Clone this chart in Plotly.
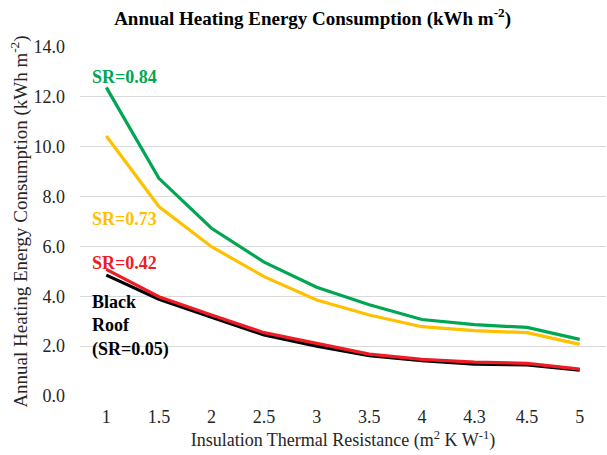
import plotly.graph_objects as go

# Insulation thermal resistance levels (m2 K W-1)
r_values = ["1", "1.5", "2", "2.5", "3", "3.5", "4", "4.3", "4.5", "5"]

# Annual heating energy consumption (kWh m-2) per roof solar reflectance
black_roof = [4.85, 3.88, 3.16, 2.45, 2.00, 1.62, 1.42, 1.28, 1.25, 1.04]
sr_042 = [5.08, 3.98, 3.25, 2.54, 2.11, 1.68, 1.47, 1.36, 1.31, 1.08]
sr_073 = [10.43, 7.60, 5.99, 4.79, 3.85, 3.25, 2.78, 2.62, 2.54, 2.07]
sr_084 = [12.38, 8.73, 6.73, 5.37, 4.36, 3.66, 3.07, 2.86, 2.75, 2.27]

y_ticks = [0, 2, 4, 6, 8, 10, 12, 14]

GREEN = "#00A651"
YELLOW = "#FFC000"
RED = "#EE1C25"
BLACK = "#000000"
FONT = "Liberation Serif"
TEXT = "#262626"

series = [
    ("Black Roof (SR=0.05)", black_roof, BLACK),
    ("SR=0.42", sr_042, RED),
    ("SR=0.73", sr_073, YELLOW),
    ("SR=0.84", sr_084, GREEN),
]

fig = go.Figure()
for name, vals, color in series:
    fig.add_trace(go.Scatter(
        x=r_values, y=vals, mode="lines", name=name,
        line=dict(color=color, width=3.2),
    ))

# Series labels placed beside the curves
labels = [
    ("<b>SR=0.84</b>", GREEN, 12.8),
    ("<b>SR=0.73</b>", YELLOW, 7.1),
    ("<b>SR=0.42</b>", RED, 5.35),
    ("<b>Black<br>Roof<br>(SR=0.05)</b>", BLACK, 2.8),
]
for text, color, y in labels:
    fig.add_annotation(
        x=-0.31, y=y, xref="x", yref="y", text=text, showarrow=False,
        xanchor="left", yanchor="middle", align="left",
        font=dict(family=FONT, size=18, color=color),
    )

fig.update_layout(
    width=607, height=455,
    margin=dict(l=80, r=1, t=47, b=59),
    paper_bgcolor="white", plot_bgcolor="white",
    showlegend=False,
    font=dict(family=FONT, size=18, color=TEXT),
    title=dict(
        text="<b>Annual Heating Energy Consumption (kWh m<sup>-2</sup>)</b>",
        x=0.515, xanchor="center", y=0.96, yanchor="middle",
        font=dict(family=FONT, size=19, color="black"),
    ),
    xaxis=dict(
        type="category", range=[-0.5, 9.5],
        showgrid=False, showline=False, zeroline=False, ticks="",
        ticklabelstandoff=8,
        tickfont=dict(family=FONT, size=18, color=TEXT),
        title=dict(text="Insulation Thermal Resistance (m<sup>2</sup> K W<sup>-1</sup>)",
                   font=dict(family=FONT, size=18, color=TEXT), standoff=7),
    ),
    yaxis=dict(
        range=[0, 14], tickvals=y_ticks, tickformat=".1f",
        showgrid=True, gridcolor="#D9D9D9", gridwidth=1.2,
        zeroline=False, showline=False, ticks="",
        ticklabelstandoff=14,
        tickfont=dict(family=FONT, size=18, color=TEXT),
        title=dict(text="Annual Heating Energy Consumption (kWh m<sup>-2</sup>)",
                   font=dict(family=FONT, size=19, color=TEXT), standoff=0),
    ),
)

fig.write_html("out.html")
